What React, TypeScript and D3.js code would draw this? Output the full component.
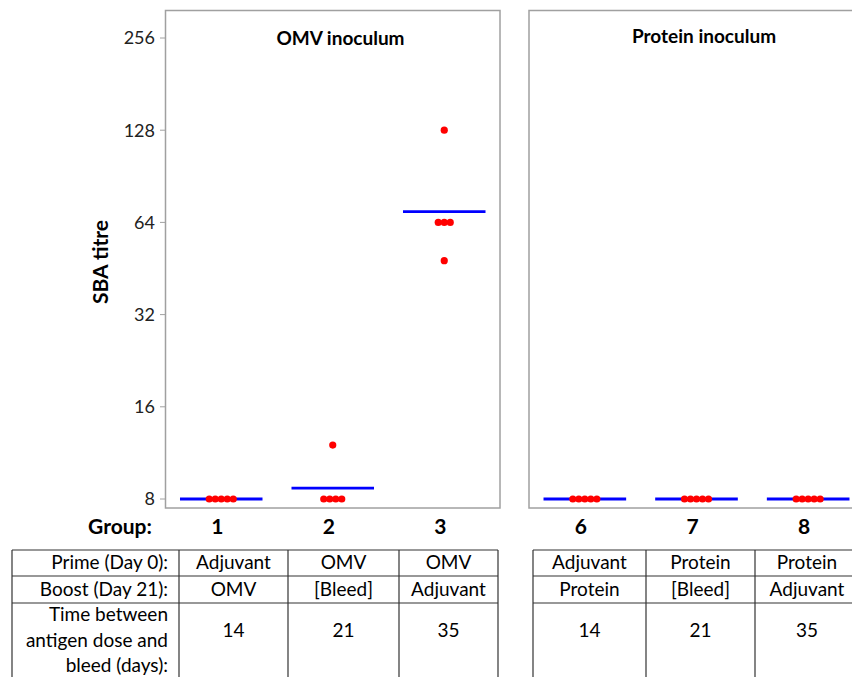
import { useEffect, useRef } from 'react';
import * as d3 from 'd3';

// groups per panel
const omvGroups = ['1', '2', '3'];
const proteinGroups = ['6', '7', '8'];

// SBA titres per mouse
const titres: Record<string, number[]> = {
    '1': [8, 8, 8, 8, 8],
    '2': [12, 8, 8, 8, 8],
    '3': [128, 64, 64, 64, 48],
    '6': [8, 8, 8, 8, 8],
    '7': [8, 8, 8, 8, 8],
    '8': [8, 8, 8, 8, 8],
};

const yTicks = [8, 16, 32, 64, 128, 256];

const primeRow = ['Adjuvant', 'OMV', 'OMV', 'Adjuvant', 'Protein', 'Protein'];
const boostRow = ['OMV', '[Bleed]', 'Adjuvant', 'Protein', '[Bleed]', 'Adjuvant'];
const daysRow = ['14', '21', '35', '14', '21', '35'];

const W = 852;
const H = 677;
const plotTop = 10.5;
const plotBottom = 508;
const font = 'Lato, "Open Sans", sans-serif';

const App = () => {
    const svgRef = useRef<SVGSVGElement>(null);

    useEffect(() => {
        const svg = d3.select(svgRef.current);
        svg.selectAll('*').remove();

        const y = d3.scaleLog().base(2).domain([8, 256]).range([499, 38]);

        const panels = [
            { title: 'OMV inoculum', groups: omvGroups, x0: 165.5, x1: 500, titleY: 45 },
            { title: 'Protein inoculum', groups: proteinGroups, x0: 529, x1: 864, titleY: 43 },
        ];

        panels.forEach(p => {
            const x = d3.scaleBand().domain(p.groups).range([p.x0, p.x1]);
            const g = svg.append('g');

            g.append('rect')
                .attr('x', p.x0)
                .attr('y', plotTop)
                .attr('width', p.x1 - p.x0)
                .attr('height', plotBottom - plotTop)
                .attr('fill', 'none')
                .attr('stroke', '#a0a0a0')
                .attr('stroke-width', 1.5);

            g.append('text')
                .attr('x', p.x0 + 175)
                .attr('y', p.titleY)
                .attr('text-anchor', 'middle')
                .attr('font-family', font)
                .attr('font-weight', 'bold')
                .attr('font-size', 19)
                .text(p.title);

            p.groups.forEach(grp => {
                const vals = titres[grp];
                const cx = (x(grp) ?? 0) + x.bandwidth() / 2;
                const gm = Math.pow(2, d3.mean(vals, v => Math.log2(v)) ?? 3);

                // mean line (geometric mean)
                g.append('line')
                    .attr('x1', cx - x.bandwidth() * 0.37)
                    .attr('x2', cx + x.bandwidth() * 0.37)
                    .attr('y1', y(gm))
                    .attr('y2', y(gm))
                    .attr('stroke', '#0000ff')
                    .attr('stroke-width', 2.8);

                // dots, spread sideways when values tie
                const counts = d3.rollup(vals, v => v.length, v => v);
                const seen = new Map<number, number>();
                vals.forEach(v => {
                    const n = counts.get(v) ?? 1;
                    const k = seen.get(v) ?? 0;
                    seen.set(v, k + 1);
                    g.append('circle')
                        .attr('cx', cx + (k - (n - 1) / 2) * 6)
                        .attr('cy', y(v))
                        .attr('r', 3.6)
                        .attr('fill', '#ff0000');
                });

                svg.append('text')
                    .attr('x', cx - 4)
                    .attr('y', 534)
                    .attr('text-anchor', 'middle')
                    .attr('font-family', font)
                    .attr('font-weight', 'bold')
                    .attr('font-size', 21)
                    .text(grp);
            });
        });

        // y axis
        const axis = svg.append('g');
        yTicks.forEach(t => {
            axis.append('line')
                .attr('x1', 160)
                .attr('x2', 165.5)
                .attr('y1', y(t))
                .attr('y2', y(t))
                .attr('stroke', '#a0a0a0');
            axis.append('text')
                .attr('x', 155)
                .attr('y', y(t))
                .attr('dy', '0.35em')
                .attr('text-anchor', 'end')
                .attr('font-family', font)
                .attr('font-size', 18)
                .attr('fill', '#222')
                .text(t);
        });

        svg.append('text')
            .attr('transform', `translate(108, 262) rotate(-90)`)
            .attr('text-anchor', 'middle')
            .attr('font-family', font)
            .attr('font-weight', 'bold')
            .attr('font-size', 21)
            .text('SBA titre');

        svg.append('text')
            .attr('x', 120)
            .attr('y', 534)
            .attr('text-anchor', 'middle')
            .attr('font-family', font)
            .attr('font-weight', 'bold')
            .attr('font-size', 21)
            .text('Group:');

        // tables
        const rowY = [550, 576, 603, 690];
        const tables = [
            { cols: [12, 179, 288, 399, 498], offset: 0, label: true },
            { cols: [533, 646, 755, 859], offset: 3, label: false },
        ];
        tables.forEach(t => {
            const tg = svg.append('g').attr('stroke', '#333').attr('stroke-width', 1.2);
            const xl = t.cols[0];
            const xr = t.cols[t.cols.length - 1];
            rowY.slice(0, 3).forEach(ry => {
                tg.append('line').attr('x1', xl).attr('x2', xr).attr('y1', ry).attr('y2', ry);
            });
            t.cols.forEach(cx => {
                tg.append('line').attr('x1', cx).attr('x2', cx).attr('y1', rowY[0]).attr('y2', rowY[3]);
            });

            const dataCols = t.label ? t.cols.slice(1) : t.cols;
            if (t.label) {
                const labels = [
                    { text: 'Prime (Day 0):', y: 569 },
                    { text: 'Boost (Day 21):', y: 596 },
                    { text: 'Time between', y: 621 },
                    { text: 'antigen dose and', y: 647 },
                    { text: 'bleed (days):', y: 672 },
                ];
                labels.forEach(l => {
                    svg.append('text')
                        .attr('x', 168)
                        .attr('y', l.y)
                        .attr('text-anchor', 'end')
                        .attr('font-family', font)
                        .attr('font-size', 19)
                        .text(l.text);
                });
            }
            for (let i = 0; i < dataCols.length - 1; i++) {
                const cx = (dataCols[i] + dataCols[i + 1]) / 2;
                const idx = t.offset + i;
                [
                    { text: primeRow[idx], y: 569 },
                    { text: boostRow[idx], y: 596 },
                    { text: daysRow[idx], y: 637 },
                ].forEach(c => {
                    svg.append('text')
                        .attr('x', cx)
                        .attr('y', c.y)
                        .attr('text-anchor', 'middle')
                        .attr('font-family', font)
                        .attr('font-size', 19)
                        .text(c.text);
                });
            }
        });
    }, []);

    return (
        <svg
            ref={svgRef}
            width={W}
            height={H}
            style={{ position: 'absolute', left: 0, top: 0, background: '#fff' }}
        ></svg>
    );
};

export default App;
